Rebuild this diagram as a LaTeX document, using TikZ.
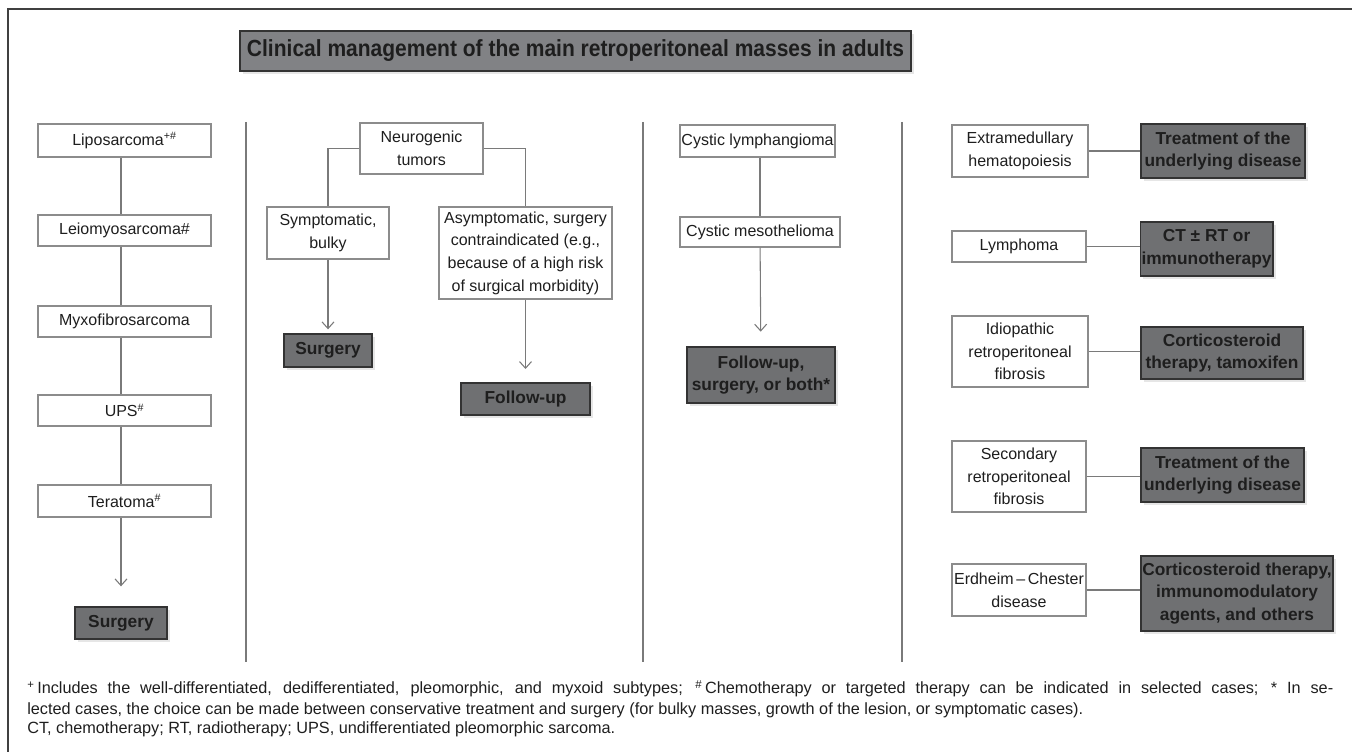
\documentclass[tikz,border=0pt]{standalone}
\usepackage{fontspec}
\setmainfont{Liberation Sans}
\newfontfamily\ttlfont[FakeStretch=0.9]{Liberation Sans}
\usetikzlibrary{arrows.meta,shadows}
\definecolor{boxline}{HTML}{8C8C8C}
\definecolor{conn}{HTML}{7A7A7A}
\definecolor{resfill}{HTML}{6F7072}
\definecolor{ttlfill}{HTML}{818285}
\definecolor{ink}{HTML}{1E1E1E}
\newlength\px
\setlength\px{0.75pt}

\begin{document}
\begin{tikzpicture}
    [x=0.75pt,y=-0.75pt,
    tbox/.style = {draw=boxline,line width=0.9pt,fill=white,align=center,inner sep=1pt,text=ink,font=\fontsize{12}{17}\selectfont},
    rbox/.style = {draw=black!80,line width=1pt,fill=resfill,align=center,inner sep=1pt,text=ink,font=\fontsize{13}{17}\selectfont\bfseries,drop shadow={opacity=0.2,shadow xshift=2pt,shadow yshift=-2pt}},
    lnk/.style = {draw=conn,line width=0.8pt},
    arr/.style = {lnk,-{Straight Barb[length=5pt,width=9pt]}}
    ]
\useasboundingbox (0,0) rectangle (1352,752);
\draw[black!75,line width=0.8pt] (8,752) -- (8,9) -- (1352,9);

\node[rbox,fill=ttlfill,minimum width=671\px,minimum height=40\px,font=\ttlfont\fontsize{17.5}{19}\selectfont\bfseries] (ttl) at (575.5,51) {Clinical management of the main retroperitoneal masses in adults};

\foreach \sx in {246,643,902}
  \draw[conn,line width=1pt] (\sx,122) -- (\sx,662);

% sarcomas
\node[tbox,minimum width=173\px,minimum height=33\px] (lipo) at (124.5,140.5) {Liposarcoma\textsuperscript{+\#}};
\node[tbox,minimum width=173\px,minimum height=31\px] (leio) at (124.5,230.5) {Leiomyosarcoma\#};
\node[tbox,minimum width=173\px,minimum height=31\px] (myxo) at (124.5,321.5) {Myxofibrosarcoma};
\node[tbox,minimum width=173\px,minimum height=31\px] (ups) at (124.5,410.5) {UPS\textsuperscript{\#}};
\node[tbox,minimum width=173\px,minimum height=32\px] (tera) at (124.5,501) {Teratoma\textsuperscript{\#}};
\node[rbox,minimum width=92\px,minimum height=32\px] (surgA) at (121,623) {Surgery};

\draw[lnk] (lipo.south -| surgA) -- (leio.north -| surgA);
\draw[lnk] (leio.south -| surgA) -- (myxo.north -| surgA);
\draw[lnk] (myxo.south -| surgA) -- (ups.north -| surgA);
\draw[lnk] (ups.south -| surgA) -- (tera.north -| surgA);
\draw[arr,shorten >=15pt] (tera.south -| surgA) -- (surgA);

% neurogenic
\node[tbox,minimum width=123\px,minimum height=51\px] (neuro) at (421.5,148.5) {Neurogenic\\tumors};
\node[tbox,minimum width=122\px,minimum height=52\px] (symp) at (328,233) {Symptomatic,\\bulky};
\node[tbox,minimum width=173\px,minimum height=92\px] (asym) at (525.5,253) {Asymptomatic, surgery\\contraindicated (e.g.,\\because of a high risk\\of surgical morbidity)};
\node[rbox,minimum width=88\px,minimum height=33\px] (surgB) at (328,350.5) {Surgery};
\node[rbox,minimum width=129\px,minimum height=32\px] (follow) at (525.5,399) {Follow-up};

\draw[lnk] (neuro.west) -| (symp.north);
\draw[lnk] (neuro.east) -| (asym.north);
\draw[arr,shorten >=3pt] (symp) -- (surgB);
\draw[arr,shorten >=10pt] (asym) -- (follow);

% cystic
\node[tbox,minimum width=155\px,minimum height=32\px] (lymphang) at (757.5,141) {Cystic lymphangioma};
\node[tbox,minimum width=160\px,minimum height=30\px] (meso) at (760,232) {Cystic mesothelioma};
\node[rbox,minimum width=148\px,minimum height=56\px] (fboth) at (761,375) {Follow-up,\\surgery, or both*};

\draw[lnk] (lymphang.south -| meso) -- (meso);
\draw[arr,shorten >=11pt] (meso) -- (fboth);

% others
\node[tbox,minimum width=136\px,minimum height=52\px] (emh) at (1020,151) {Extramedullary\\hematopoiesis};
\node[tbox,minimum width=134\px,minimum height=31\px] (lymph) at (1019,246.5) {Lymphoma};
\node[tbox,minimum width=136\px,minimum height=71\px] (irf) at (1020,351.5) {Idiopathic\\retroperitoneal\\fibrosis};
\node[tbox,minimum width=134\px,minimum height=71\px] (srf) at (1019,476.5) {Secondary\\retroperitoneal\\fibrosis};
\node[tbox,minimum width=134\px,minimum height=52\px] (ecd) at (1019,590) {Erdheim\,–\,Chester\\disease};

\node[rbox,minimum width=164\px,minimum height=54\px] (trA) at (1223,151) {Treatment of the\\underlying disease};
\node[rbox,minimum width=131\px,minimum height=54\px] (ctrt) at (1206.5,249) {CT ± RT or\\immunotherapy};
\node[rbox,minimum width=162\px,minimum height=52\px] (cortA) at (1222,353) {Corticosteroid\\therapy, tamoxifen};
\node[rbox,minimum width=163\px,minimum height=54\px] (trB) at (1222.5,475) {Treatment of the\\underlying disease};
\node[rbox,minimum width=192\px,minimum height=75\px] (cortB) at (1237,593.5) {Corticosteroid therapy,\\immunomodulatory\\agents, and others};

\draw[lnk] (emh.east) -- (emh.east -| trA.west);
\draw[lnk] (lymph.east) -- (lymph.east -| ctrt.west);
\draw[lnk] (irf.east) -- (irf.east -| cortA.west);
\draw[lnk] (srf.east) -- (srf.east -| trB.west);
\draw[lnk] (ecd.east) -- (ecd.east -| cortB.west);

% notes
\node[anchor=north west,inner sep=0pt,text width=1306\px,align=justify,text=ink,font=\fontsize{12.2}{15.4}\selectfont] (notes) at (27,680) {\textsuperscript{+}\,Includes the well-differentiated, dedifferentiated, pleomorphic, and myxoid subtypes; \textsuperscript{\#}\,Chemotherapy or targeted therapy can be indicated in selected cases; * In se-\linebreak lected cases, the choice can be made between conservative treatment and surgery (for bulky masses, growth of the lesion, or symptomatic cases).};
\node[anchor=north west,inner sep=0pt,text=ink,font=\fontsize{12.2}{15.4}\selectfont] (abbr) at (27,721) {CT, chemotherapy; RT, radiotherapy; UPS, undifferentiated pleomorphic sarcoma.};

\end{tikzpicture}
\end{document}
